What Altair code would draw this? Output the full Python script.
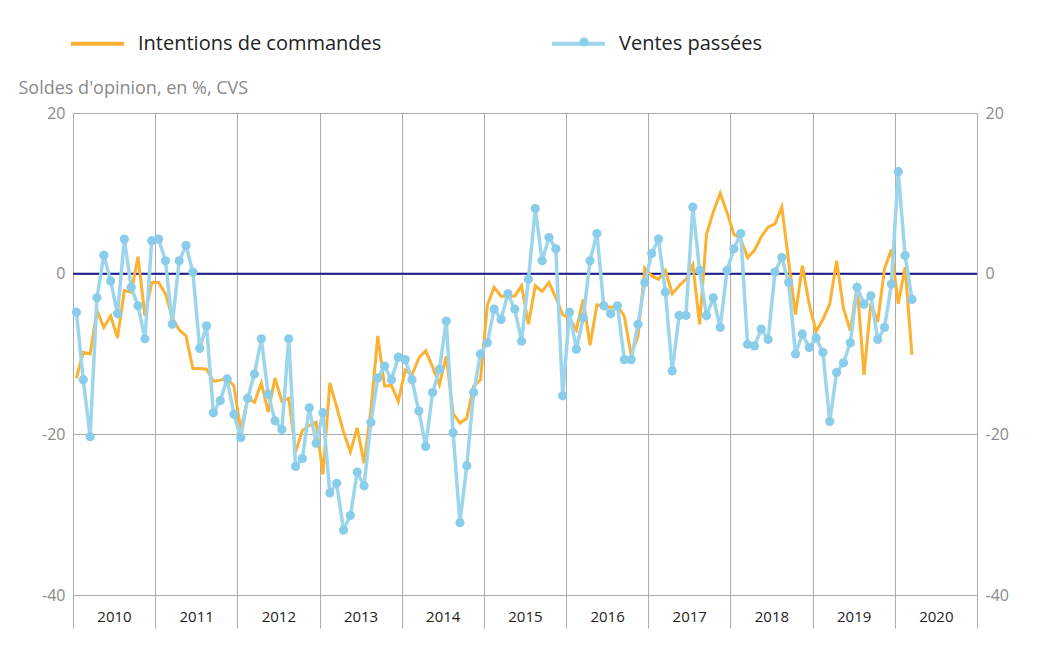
import altair as alt
import pandas as pd

start_year = 2010
series_names = ["Intentions de commandes", "Ventes passées"]
year_ticks = list(range(2010, 2022))
y_ticks = [-40, -20, 0, 20]

intentions = [
    -13.0, -9.8, -10.0, -4.6, -6.7, -5.25, -8.0, -2.1, -2.3, 2.1, -5.25, -1.1,
    -1.1, -2.5, -5.5, -7.0, -7.75, -11.8, -11.8, -11.9, -13.4, -13.25, -13.0, -14.0,
    -19.5, -15.5, -16.0, -13.6, -17.2, -13.0, -15.9, -15.5, -22.2, -19.5, -18.9, -18.5,
    -25.0, -13.6, -16.6, -19.7, -22.2, -19.2, -23.6, -17.0, -7.75, -14.0, -13.9, -15.9,
    -12.0, -12.6, -10.5, -9.6, -11.6, -13.8, -10.3, -17.4, -18.6, -18.0, -14.0, -13.2,
    -3.9, -1.7, -2.8, -2.8, -2.8, -1.5, -6.3, -1.5, -2.2, -1.1, -3.0, -5.1,
    -5.5, -7.0, -3.2, -8.9, -3.9, -4.0, -4.2, -4.0, -5.3, -10.1, -7.8, 0.7,
    -0.25, -0.7, 0.4, -2.5, -1.5, -0.7, 1.1, -6.3, 4.9, 7.7, 10.0, 7.6,
    4.9, 4.3, 2.0, 2.9, 4.6, 5.8, 6.2, 8.3, 1.5, -5.1, 1.0, -3.8,
    -7.2, -5.7, -3.8, 1.6, -4.3, -7.1, -1.5, -12.6, -3.7, -6.0, 0.6, 3.0,
    -3.75, 0.8, -10.1,
]

ventes = [
    -4.8, -13.2, -20.3, -3.0, 2.3, -0.9, -5.0, 4.3, -1.7, -4.0, -8.1, 4.1,
    4.3, 1.6, -6.3, 1.6, 3.5, 0.2, -9.3, -6.5, -17.3, -15.8, -13.1, -17.5,
    -20.4, -15.5, -12.5, -8.1, -15.0, -18.3, -19.4, -8.1, -24.0, -23.0, -16.7, -21.1,
    -17.3, -27.3, -26.1, -31.9, -30.1, -24.7, -26.4, -18.5, -13.0, -11.5, -13.2, -10.4,
    -10.7, -13.2, -17.1, -21.5, -14.8, -11.9, -5.9, -19.8, -31.0, -23.9, -14.8, -10.0,
    -8.6, -4.4, -5.7, -2.5, -4.4, -8.4, -0.7, 8.1, 1.6, 4.5, 3.1, -15.2,
    -4.8, -9.4, -5.5, 1.6, 5.0, -4.0, -5.0, -4.0, -10.7, -10.7, -6.3, -1.1,
    2.5, 4.3, -2.3, -12.1, -5.2, -5.2, 8.3, 0.4, -5.2, -3.0, -6.7, 0.4,
    3.1, 5.0, -8.8, -9.0, -6.9, -8.2, 0.2, 2.0, -1.1, -10.0, -7.5, -9.2,
    -8.0, -9.8, -18.4, -12.3, -11.1, -8.6, -1.7, -3.8, -2.75, -8.2, -6.7, -1.3,
    12.7, 2.25, -3.2,
]

zero_line = [0]

ORANGE = "#FBB131"
BLUE_LINE = "#9DD6EC"
BLUE_PT = "#8ACDEA"
GRID = "#ababab"
FONT = "Open Sans"
LABEL_EXPR = "'' + datum.value"

n = len(ventes)
t = [start_year + (i + 0.5) / 12 for i in range(n)]
df = pd.DataFrame({
    "t": t + t,
    "value": intentions + ventes,
    "series": [series_names[0]] * n + [series_names[1]] * n,
})

x_enc = alt.X(
    "t:Q",
    scale=alt.Scale(domain=[2010, 2021], nice=False, zero=False),
    axis=alt.Axis(
        values=year_ticks, format="d",
        labelExpr="datum.value < 2021 ? datum.label : ''",
        title=None, grid=True, gridColor=GRID, domainColor=GRID,
        tickColor=GRID, tickSize=33, labelOffset=41, labelPadding=-19,
        labelFlush=False, labelOverlap=False,
        labelFont=FONT, labelFontSize=15, labelColor="#222222",
    ),
)

y_scale = alt.Scale(domain=[-40, 20], nice=False)

color_enc = alt.Color(
    "series:N",
    scale=alt.Scale(domain=series_names, range=[ORANGE, BLUE_LINE]),
    legend=alt.Legend(
        orient="none", legendX=-4, legendY=-98, direction="horizontal",
        title=None, symbolType="stroke", symbolSize=2809, symbolStrokeWidth=4,
        labelFont=FONT, labelFontSize=20, labelColor="#222222",
        labelOffset=12, columnPadding=162, labelLimit=400,
    ),
)

orange = alt.Chart(df).transform_filter(
    alt.datum.series == series_names[0]
).mark_line(strokeWidth=3).encode(
    x=x_enc,
    y=alt.Y(
        "value:Q", scale=y_scale,
        axis=alt.Axis(
            values=y_ticks, title="Soldes d'opinion, en %, CVS",
            labelExpr=LABEL_EXPR,
            titleAngle=0, titleAlign="left", titleBaseline="middle",
            titleX=-55, titleY=-25, titleFont=FONT, titleFontSize=18,
            titleFontWeight="normal", titleColor="#8a8a8a",
            labelFont=FONT, labelFontSize=16, labelColor="#8a8a8a",
            ticks=False, domain=False, grid=True, gridColor=GRID, labelPadding=8,
        ),
    ),
    color=color_enc,
)

rule = alt.Chart(pd.DataFrame({"v": zero_line})).mark_rule(
    color="#1c1c8e", strokeWidth=2
).encode(y=alt.Y("v:Q", scale=y_scale, axis=None))

blue = alt.Chart(df).transform_filter(
    alt.datum.series == series_names[1]
).mark_line(strokeWidth=3.5).encode(
    x=x_enc,
    y=alt.Y("value:Q", scale=y_scale, axis=None),
    color=color_enc,
)

points = alt.Chart(df).transform_filter(
    alt.datum.series == series_names[1]
).mark_circle(size=85, opacity=1).encode(
    x=x_enc,
    y=alt.Y("value:Q", scale=y_scale, axis=None),
    fill=alt.Fill(
        "series:N",
        scale=alt.Scale(domain=[series_names[1]], range=[BLUE_PT]),
        legend=alt.Legend(
            orient="none", legendX=506, legendY=-76, title=None,
            symbolSize=85, symbolStrokeWidth=0, symbolOpacity=1,
            labelExpr="''", labelFontSize=1,
        ),
    ),
)

right_axis = alt.Chart(df).mark_line(opacity=0).encode(
    x=x_enc,
    y=alt.Y(
        "value:Q", scale=y_scale,
        axis=alt.Axis(
            orient="right", values=y_ticks, title=None, labelExpr=LABEL_EXPR,
            labelFont=FONT, labelFontSize=16, labelColor="#8a8a8a",
            ticks=False, domain=False, grid=False, labelPadding=8,
        ),
    ),
    detail="series:N",
)

chart = alt.layer(rule, orange, blue, points, right_axis).resolve_axis(
    y="independent"
).properties(
    width=904, height=482,
    autosize=alt.AutoSizeParams(type="none"),
    padding={"left": 65, "top": 105, "right": 57, "bottom": 60},
).configure_view(stroke=None)

chart.save("out.html", embed_options={"renderer": "svg", "actions": False})
